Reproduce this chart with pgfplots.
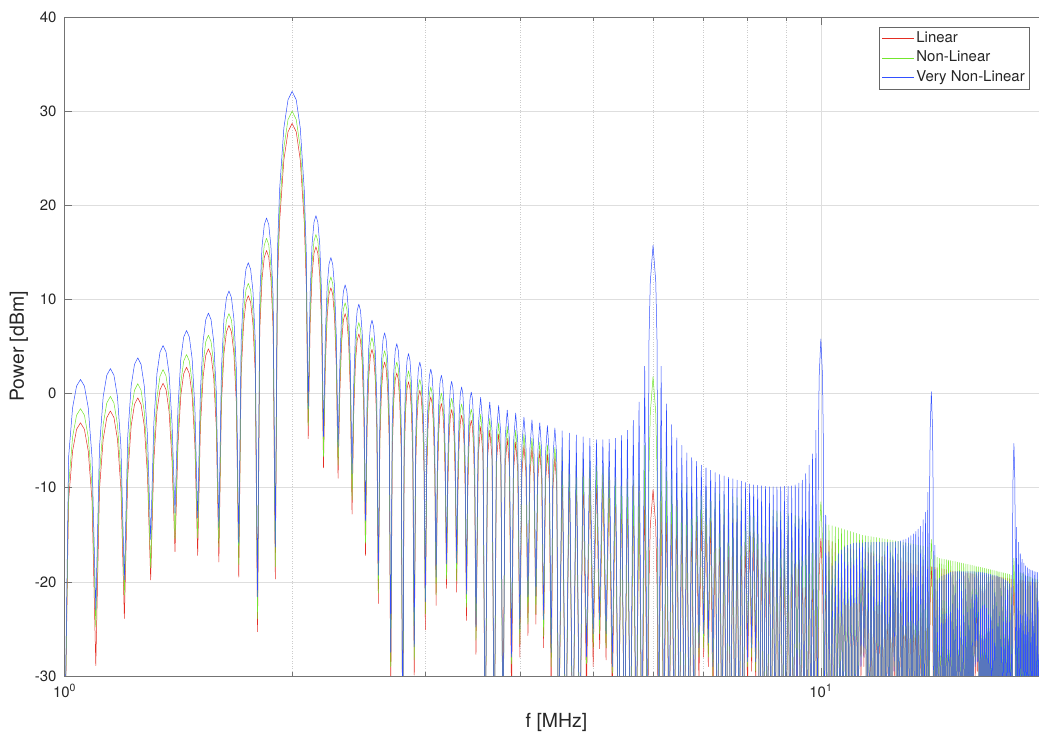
\documentclass[border=0pt]{standalone}
\usepackage{fontspec}
\setmainfont{TeX Gyre Heros}
\usepackage{pgfplots}
\usepackage{pgfplotstable}
\pgfplotsset{compat=1.18}
\definecolor{cR}{RGB}{228,45,35}
\definecolor{cG}{RGB}{115,230,45}
\definecolor{cB}{RGB}{50,80,255}
\definecolor{txt}{RGB}{38,38,38}
\pgfplotstableread{
f r g b
1.0 -40 -40 -40
1.0125 -11.4 -9.9 -6.8
1.025 -6.1 -4.6 -1.5
1.0375 -3.8 -2.3 0.8
1.05 -3.1 -1.6 1.5
1.0625 -3.8 -2.3 0.8
1.075 -6.1 -4.6 -1.5
1.0875 -11.4 -9.9 -6.8
1.1 -28.9 -24.8 -23.0
1.1125 -10.15 -8.6 -5.65
1.125 -4.85 -3.3 -0.35
1.1375 -2.55 -1.0 1.95
1.15 -1.85 -0.3 2.65
1.1625 -2.55 -1.0 1.95
1.175 -4.85 -3.3 -0.35
1.1875 -10.15 -8.6 -5.65
1.2 -23.9 -21.4 -19.8
1.2125 -8.75 -7.25 -4.5
1.225 -3.45 -1.95 0.8
1.2375 -1.15 0.35 3.1
1.25 -0.45 1.05 3.8
1.2625 -1.15 0.35 3.1
1.275 -3.45 -1.95 0.8
1.2875 -8.75 -7.25 -4.5
1.3 -19.8 -18.5 -15.5
1.3125 -7.2 -5.75 -3.2
1.325 -1.9 -0.45 2.1
1.3375 0.4 1.85 4.4
1.35 1.1 2.55 5.1
1.3625 0.4 1.85 4.4
1.375 -1.9 -0.45 2.1
1.3875 -7.2 -5.75 -3.2
1.4 -16.8 -15.4 -12.7
1.4125 -5.5 -4.15 -1.6
1.425 -0.2 1.15 3.7
1.4375 2.1 3.45 6.0
1.45 2.8 4.15 6.7
1.4625 2.1 3.45 6.0
1.475 -0.2 1.15 3.7
1.4875 -5.5 -4.15 -1.6
1.5 -17.2 -15.3 -13.2
1.5125 -3.55 -2.1 0.25
1.525 1.75 3.2 5.55
1.5375 4.05 5.5 7.85
1.55 4.75 6.2 8.55
1.5625 4.05 5.5 7.85
1.575 1.75 3.2 5.55
1.5875 -3.55 -2.1 0.25
1.6 -17.9 -16.3 -14.2
1.6125 -1.05 0.2 2.6
1.625 4.25 5.5 7.9
1.6375 6.55 7.8 10.2
1.65 7.25 8.5 10.9
1.6625 6.55 7.8 10.2
1.675 4.25 5.5 7.9
1.6875 -1.05 0.2 2.6
1.7 -19.5 -18.2 -15.9
1.7125 2.1 3.4 5.6
1.725 7.4 8.7 10.9
1.7375 9.7 11.0 13.2
1.75 10.4 11.7 13.9
1.7625 9.7 11.0 13.2
1.775 7.4 8.7 10.9
1.7875 2.1 3.4 5.6
1.8 -25.3 -23.9 -21.6
1.8125 6.9 8.2 10.35
1.825 12.2 13.5 15.65
1.8375 14.5 15.8 17.95
1.85 15.2 16.5 18.65
1.8625 14.5 15.8 17.95
1.875 12.2 13.5 15.65
1.8875 6.9 8.2 10.35
1.9 -19.7 -18.4 -16.3
1.9125 11.7 13.0 15.1
1.925 18.2 19.5 21.6
1.95 24.8 26.1 28.2
1.975 27.8 29.1 31.2
2.0 28.7 30.0 32.1
2.025 27.8 29.1 31.2
2.05 24.8 26.1 28.2
2.075 18.2 19.5 21.6
2.0875 11.7 13.0 15.1
2.1 -4.8 -3.4 -1.6
2.1125 7.3 8.6 10.6
2.125 12.6 13.9 15.9
2.1375 14.9 16.2 18.2
2.15 15.6 16.9 18.9
2.1625 14.9 16.2 18.2
2.175 12.6 13.9 15.9
2.1875 7.3 8.6 10.6
2.2 -7.9 -6.7 -4.6
2.2125 2.95 4.1 6.15
2.225 8.25 9.4 11.45
2.2375 10.55 11.7 13.75
2.25 11.25 12.4 14.45
2.2625 10.55 11.7 13.75
2.275 8.25 9.4 11.45
2.2875 2.95 4.1 6.15
2.3 -9.0 -7.6 -5.7
2.3125 0.2 1.35 3.25
2.325 5.5 6.65 8.55
2.3375 7.8 8.95 10.85
2.35 8.5 9.65 11.55
2.3625 7.8 8.95 10.85
2.375 5.5 6.65 8.55
2.3875 0.2 1.35 3.25
2.4 -12.8 -11.3 -8.5
2.4125 -1.95 -0.75 1.2
2.425 3.35 4.55 6.5
2.4375 5.65 6.85 8.8
2.45 6.35 7.55 9.5
2.4625 5.65 6.85 8.8
2.475 3.35 4.55 6.5
2.4875 -1.95 -0.75 1.2
2.5 -17.2 -15.9 -13.5
2.5125 -3.6 -2.35 -0.5
2.525 1.7 2.95 4.8
2.5375 4.0 5.25 7.1
2.55 4.7 5.95 7.8
2.5625 4.0 5.25 7.1
2.575 1.7 2.95 4.8
2.5875 -3.6 -2.35 -0.5
2.6 -22.3 -21.2 -19.3
2.6125 -4.95 -3.75 -1.85
2.625 0.35 1.55 3.45
2.6375 2.65 3.85 5.75
2.65 3.35 4.55 6.45
2.6625 2.65 3.85 5.75
2.675 0.35 1.55 3.45
2.6875 -4.95 -3.75 -1.85
2.7 -33 -29 -27.5
2.7125 -6.1 -4.95 -3.0
2.725 -0.8 0.35 2.3
2.7375 1.5 2.65 4.6
2.75 2.2 3.35 5.3
2.7625 1.5 2.65 4.6
2.775 -0.8 0.35 2.3
2.7875 -6.1 -4.95 -3.0
2.8 -40 -40 -38
2.8125 -7.05 -5.9 -4.05
2.825 -1.75 -0.6 1.25
2.8375 0.55 1.7 3.55
2.85 1.25 2.4 4.25
2.8625 0.55 1.7 3.55
2.875 -1.75 -0.6 1.25
2.8875 -7.05 -5.9 -4.05
2.9 -29.9 -28.3 -26.9
2.9125 -7.95 -6.8 -4.95
2.925 -2.65 -1.5 0.35
2.9375 -0.35 0.8 2.65
2.95 0.35 1.5 3.35
2.9625 -0.35 0.8 2.65
2.975 -2.65 -1.5 0.35
2.9875 -7.95 -6.8 -4.95
3.0 -25.1 -23.4 -22.1
3.0125 -8.65 -7.6 -5.7
3.025 -3.35 -2.3 -0.4
3.0375 -1.05 0.0 1.9
3.05 -0.35 0.7 2.6
3.0625 -1.05 0.0 1.9
3.075 -3.35 -2.3 -0.4
3.0875 -8.65 -7.6 -5.7
3.1 -22.5 -21.4 -19.5
3.1125 -9.35 -8.25 -6.35
3.125 -4.05 -2.95 -1.05
3.1375 -1.75 -0.65 1.25
3.15 -1.05 0.05 1.95
3.1625 -1.75 -0.65 1.25
3.175 -4.05 -2.95 -1.05
3.1875 -9.35 -8.25 -6.35
3.2 -20.7 -19.7 -18.1
3.2125 -10.0 -8.8 -7.0
3.225 -4.7 -3.5 -1.7
3.2375 -2.4 -1.2 0.6
3.25 -1.7 -0.5 1.3
3.2625 -2.4 -1.2 0.6
3.275 -4.7 -3.5 -1.7
3.2875 -10.0 -8.8 -7.0
3.3 -21.1 -19.9 -18.0
3.3125 -10.6 -9.4 -7.6
3.325 -5.3 -4.1 -2.3
3.3375 -3.0 -1.8 0.0
3.35 -2.3 -1.1 0.7
3.3625 -3.0 -1.8 0.0
3.375 -5.3 -4.1 -2.3
3.3875 -10.6 -9.4 -7.6
3.4 -24.1 -22.7 -21.3
3.4125 -11.15 -9.95 -8.15
3.425 -5.85 -4.65 -2.85
3.4375 -3.55 -2.35 -0.55
3.45 -2.85 -1.65 0.15
3.4625 -3.55 -2.35 -0.55
3.475 -5.85 -4.65 -2.85
3.4875 -11.15 -9.95 -8.15
3.5 -27.7 -26.2 -24.8
3.525 -6.5 -5.2 -3.4
3.55 -3.5 -2.2 -0.4
3.575 -6.5 -5.2 -3.4
3.6 -40 -40 -40
3.625 -6.9 -5.65 -3.9
3.65 -3.9 -2.65 -0.9
3.675 -6.9 -5.65 -3.9
3.7 -40 -40 -40
3.725 -7.3 -6.1 -4.26
3.75 -4.3 -3.1 -1.26
3.775 -7.3 -6.1 -4.26
3.8 -36 -40 -40
3.825 -7.75 -6.5 -4.75
3.85 -4.75 -3.5 -1.75
3.875 -7.75 -6.5 -4.75
3.9 -33 -28.7 -28
3.925 -8.15 -6.9 -5.07
3.95 -5.15 -3.9 -2.07
3.975 -8.15 -6.9 -5.07
4.0 -28 -26.6 -25
4.025 -8.45 -7.3 -5.5
4.05 -5.45 -4.3 -2.5
4.075 -8.45 -7.3 -5.5
4.1 -25.7 -24.5 -21.6
4.125 -8.7 -7.75 -5.8
4.15 -5.7 -4.75 -2.8
4.175 -8.7 -7.75 -5.8
4.2 -24.5 -23.4 -21.5
4.225 -9.05 -8.15 -6.1
4.25 -6.05 -5.15 -3.1
4.275 -9.05 -8.15 -6.1
4.3 -27 -25.8 -24
4.325 -9.4 -8.45 -6.4
4.35 -6.4 -5.45 -3.4
4.375 -9.4 -8.45 -6.4
4.4 -32 -29 -27.5
4.425 -9.75 -8.7 -6.65
4.45 -6.75 -5.7 -3.65
4.475 -9.75 -8.7 -6.65
4.5 -40 -40 -40
4.55 -7.1 -6.0 -3.95
4.6 -40 -40 -40
4.65 -7.35 -6.3 -4.2
4.7 -40 -40 -40
4.75 -7.6 -6.6 -4.4
4.8 -40 -40 -40
4.85 -7.95 -6.85 -4.6
4.9 -32 -28.7 -28
4.95 -8.3 -7.1 -4.75
5.0 -29 -27 -25.5
5.05 -8.5 -7.4 -4.9
5.1 -27.1 -25.5 -24
5.15 -8.7 -7.75 -4.9
5.2 -28.3 -27 -25.5
5.25 -8.85 -8.0 -4.85
5.3 -33 -29.7 -29
5.35 -9.05 -8.3 -4.75
5.4 -40 -40 -40
5.45 -9.2 -8.6 -4.45
5.5 -40 -40 -40
5.55 -9.4 -8.9 -3.9
5.6 -40 -40 -40
5.65 -9.6 -9.2 -2.85
5.7 -40 -40 -40
5.75 -9.8 -8.5 -0.9
5.8 -40 -40 -40
5.85 -10.0 -5.5 2.9
5.9 -40 -40 -40
5.925 -20.7 -8.7 5.25
5.95 -14.1 -2.1 11.85
6.0 -10.2 1.8 15.75
6.05 -14.1 -2.1 11.85
6.075 -20.7 -8.7 5.25
6.1 -40 -40 -40
6.15 -10.5 -5.8 2.9
6.2 -40 -40 -40
6.25 -10.7 -8.3 -1.1
6.3 -40 -40 -40
6.35 -10.9 -9.0 -3.3
6.4 -40 -40 -40
6.45 -11.1 -9.3 -4.7
6.5 -40 -40 -40
6.55 -11.3 -9.5 -5.5
6.6 -40 -40 -40
6.65 -11.5 -9.7 -6.3
6.7 -40 -40 -40
6.75 -11.75 -9.85 -6.8
6.8 -40 -40 -40
6.85 -11.95 -10.0 -7.2
6.9 -31 -28 -27
6.95 -12.15 -10.15 -7.6
7.0 -28 -27 -25.5
7.05 -12.3 -10.3 -7.9
7.1 -29 -28 -26.5
7.15 -12.45 -10.45 -8.15
7.2 -34 -30 -29
7.25 -12.6 -10.55 -8.4
7.3 -40 -40 -40
7.35 -12.8 -10.65 -8.6
7.4 -40 -40 -40
7.45 -12.95 -10.75 -8.75
7.5 -40 -40 -40
7.55 -13.1 -10.85 -8.9
7.6 -40 -40 -40
7.65 -13.2 -10.95 -9.05
7.7 -40 -40 -40
7.75 -13.3 -11.05 -9.2
7.8 -40 -40 -40
7.85 -13.4 -11.2 -9.3
7.9 -40 -40 -40
7.95 -13.5 -11.3 -9.45
8.0 -32 -29 -28.5
8.05 -13.6 -11.45 -9.6
8.1 -29.5 -28 -27
8.15 -13.7 -11.6 -9.7
8.2 -31 -29.5 -28.5
8.25 -13.8 -11.75 -9.75
8.3 -40 -40 -40
8.35 -13.9 -11.9 -9.8
8.4 -40 -40 -40
8.45 -14.0 -12.05 -9.85
8.5 -40 -40 -40
8.55 -14.05 -12.2 -9.9
8.6 -40 -40 -40
8.65 -14.1 -12.35 -9.9
8.7 -40 -40 -40
8.75 -14.2 -12.45 -9.9
8.8 -40 -40 -40
8.85 -14.3 -12.55 -9.9
8.9 -40 -40 -40
8.95 -14.4 -12.65 -9.85
9.0 -40 -40 -40
9.05 -14.5 -12.75 -9.85
9.1 -40 -40 -40
9.15 -14.6 -12.85 -9.8
9.2 -40 -40 -40
9.25 -14.7 -12.95 -9.7
9.3 -33 -30 -40
9.35 -14.8 -13.05 -9.5
9.4 -40 -40 -40
9.45 -14.9 -13.15 -9.2
9.5 -40 -40 -40
9.55 -15.0 -13.25 -8.5
9.6 -40 -40 -40
9.65 -15.1 -13.35 -7.6
9.7 -40 -40 -40
9.75 -15.2 -13.45 -6.4
9.8 -40 -40 -40
9.85 -15.3 -13.55 -3.9
9.9 -40 -40 -40
9.925 -25.9 -22 -4.7
9.95 -19.3 -15.4 1.9
10.0 -15.4 -11.5 5.8
10.05 -19.3 -15.4 1.9
10.075 -25.9 -22 -4.7
10.1 -40 -40 -40
10.15 -15.45 -13.85 -12.9
10.2 -40 -40 -40
10.25 -15.6 -13.95 -16.8
10.3 -40 -40 -40
10.35 -15.75 -14.05 -18.3
10.4 -40 -40 -40
10.45 -15.9 -14.15 -17.8
10.5 -40 -40 -40
10.55 -16.05 -14.25 -17.0
10.6 -40 -40 -40
10.65 -16.2 -14.35 -16.6
10.7 -40 -40 -40
10.75 -16.3 -14.45 -16.3
10.8 -40 -40 -40
10.85 -16.4 -14.55 -16.1
10.9 -40 -40 -40
10.95 -16.5 -14.65 -16.0
11.0 -40 -40 -40
11.05 -16.55 -14.75 -15.9
11.1 -40 -40 -40
11.15 -16.6 -14.85 -15.85
11.2 -40 -40 -40
11.25 -16.65 -14.95 -15.85
11.3 -30 -28 -29
11.35 -16.7 -15.05 -15.85
11.4 -29 -27.5 -28
11.45 -16.8 -15.1 -15.8
11.5 -40 -40 -40
11.55 -16.85 -15.15 -15.8
11.6 -40 -40 -40
11.65 -16.9 -15.2 -15.8
11.7 -40 -40 -40
11.75 -17.0 -15.25 -15.8
11.8 -40 -40 -40
11.85 -17.1 -15.3 -15.8
11.9 -40 -40 -40
11.95 -17.2 -15.35 -15.8
12.0 -40 -40 -40
12.05 -17.3 -15.4 -15.8
12.1 -40 -40 -40
12.15 -17.35 -15.45 -15.8
12.2 -40 -40 -40
12.25 -17.4 -15.5 -15.8
12.3 -40 -40 -40
12.35 -17.5 -15.55 -15.8
12.4 -40 -40 -40
12.45 -17.55 -15.6 -15.8
12.5 -31 -29 -29.5
12.55 -17.6 -15.65 -15.75
12.6 -40 -40 -40
12.65 -17.7 -15.7 -15.7
12.7 -40 -40 -40
12.75 -17.75 -15.75 -15.65
12.8 -40 -40 -40
12.85 -17.85 -15.8 -15.55
12.9 -40 -40 -40
12.95 -17.9 -15.85 -15.45
13.0 -40 -40 -40
13.05 -18.0 -15.9 -15.3
13.1 -40 -40 -40
13.15 -18.05 -15.95 -15.1
13.2 -40 -40 -40
13.25 -18.1 -16.0 -14.9
13.3 -40 -40 -40
13.35 -18.15 -16.05 -14.65
13.4 -40 -40 -40
13.45 -18.2 -16.1 -14.4
13.5 -40 -40 -40
13.55 -18.25 -16.15 -14.1
13.6 -40 -40 -40
13.65 -18.3 -16.2 -13.4
13.7 -40 -40 -40
13.75 -18.35 -16.25 -12.6
13.8 -40 -40 -40
13.85 -18.4 -16.3 -10.5
13.9 -40 -40 -40
13.925 -28.9 -26 -10.3
13.95 -22.3 -19.4 -3.7
14.0 -18.4 -15.5 0.2
14.05 -22.3 -19.4 -3.7
14.075 -28.9 -26 -10.3
14.1 -40 -40 -40
14.15 -18.45 -17.2 -16.1
14.2 -40 -40 -40
14.25 -18.5 -17.4 -19.8
14.3 -40 -40 -40
14.35 -18.55 -17.5 -19.6
14.4 -40 -40 -40
14.45 -18.6 -17.55 -19.4
14.5 -40 -40 -40
14.55 -18.65 -17.6 -19.3
14.6 -40 -40 -40
14.65 -18.7 -17.65 -19.2
14.7 -40 -40 -40
14.75 -18.75 -17.7 -19.1
14.8 -40 -40 -40
14.85 -18.8 -17.75 -19.0
14.9 -40 -40 -40
14.95 -18.85 -17.8 -18.95
15.0 -40 -40 -40
15.05 -18.9 -17.85 -18.9
15.1 -40 -40 -40
15.15 -18.9 -17.9 -18.9
15.2 -40 -40 -40
15.25 -18.95 -17.95 -18.9
15.3 -40 -40 -40
15.35 -19.0 -18.0 -18.9
15.4 -40 -40 -40
15.45 -19.0 -18.05 -18.9
15.5 -40 -40 -40
15.55 -19.05 -18.1 -18.9
15.6 -40 -40 -40
15.65 -19.1 -18.15 -18.9
15.7 -40 -40 -40
15.75 -19.1 -18.2 -18.9
15.8 -40 -40 -40
15.85 -19.15 -18.25 -18.9
15.9 -40 -40 -40
15.95 -19.15 -18.3 -18.9
16.0 -30 -28.5 -29
16.05 -19.2 -18.35 -18.95
16.1 -29.5 -28 -28.5
16.15 -19.2 -18.4 -18.95
16.2 -40 -40 -40
16.25 -19.25 -18.45 -19.0
16.3 -40 -40 -40
16.35 -19.25 -18.5 -19.0
16.4 -40 -40 -40
16.45 -19.3 -18.55 -19.05
16.5 -40 -40 -40
16.55 -19.3 -18.6 -19.1
16.6 -40 -40 -40
16.65 -19.35 -18.65 -19.15
16.7 -40 -40 -40
16.75 -19.35 -18.7 -19.2
16.8 -40 -40 -40
16.85 -19.4 -18.75 -19.25
16.9 -40 -40 -40
16.95 -19.4 -18.8 -19.3
17.0 -40 -40 -40
17.05 -19.45 -18.85 -19.35
17.1 -40 -40 -40
17.15 -19.45 -18.9 -19.4
17.2 -40 -40 -40
17.25 -19.5 -18.95 -19.5
17.3 -40 -40 -40
17.35 -19.5 -19.0 -19.6
17.4 -40 -40 -40
17.45 -19.55 -19.05 -19.7
17.5 -40 -40 -40
17.55 -19.6 -19.1 -19.8
17.6 -40 -40 -40
17.65 -19.6 -19.15 -19.95
17.7 -40 -40 -40
17.75 -19.65 -19.2 -20.2
17.8 -40 -40 -40
17.85 -19.7 -19.3 -20.6
17.9 -40 -40 -40
17.925 -30.2 -28 -15.8
17.95 -23.6 -21.4 -9.2
18.0 -19.7 -17.5 -5.3
18.05 -23.6 -21.4 -9.2
18.075 -30.2 -28 -15.8
18.1 -40 -40 -40
18.15 -19.75 -18.8 -14.2
18.2 -40 -40 -40
18.25 -19.8 -18.9 -15.8
18.3 -40 -40 -40
18.35 -19.8 -19.0 -17.0
18.4 -40 -40 -40
18.45 -19.85 -19.1 -17.6
18.5 -40 -40 -40
18.55 -19.9 -19.2 -18.0
18.6 -40 -40 -40
18.65 -19.9 -19.3 -18.3
18.7 -40 -40 -40
18.75 -19.95 -19.4 -18.5
18.8 -40 -40 -40
18.85 -20.0 -19.45 -18.65
18.9 -40 -40 -40
18.95 -20.0 -19.5 -18.75
19.0 -40 -40 -40
19.05 -20.05 -19.6 -18.8
19.1 -40 -40 -40
19.15 -20.05 -19.65 -18.9
19.2 -40 -40 -40
19.25 -20.1 -19.7 -18.95
19.3 -40 -40 -40
19.35 -20.1 -19.75 -19.0
19.4 -40 -40 -40
19.45 -20.15 -19.8 -19.1
19.5 -40 -40 -40
19.55 -20.15 -19.85 -19.1
19.6 -40 -40 -40
19.65 -20.2 -19.9 -19.15
19.7 -40 -40 -40
19.75 -20.2 -19.95 -19.2
19.8 -40 -40 -40
19.85 -20.25 -20.0 -19.2
19.9 -40 -40 -40
19.95 -20.25 -20.05 -19.25
20.0 -40 -40 -40
}\spectrum
\begin{document}
\begin{tikzpicture}
\begin{axis}[
  at={(0,0)}, anchor=south west, scale only axis,
  width=984bp, height=659bp,
  xmode=log, log basis x=10,
  xmin=1, xmax=20, ymin=-30, ymax=40,
  xtick={1,10}, xticklabels={10\textsuperscript{0},10\textsuperscript{1}},
  minor xtick={2,3,4,5,6,7,8,9,20},
  ytick={-30,-20,-10,0,10,20,30,40},
  yticklabels={-30,-20,-10,0,10,20,30,40},
  grid=both,
  major grid style={line width=0.5bp, color=black!13},
  minor grid style={line width=0.5bp, color=black!20, dotted},
  axis line style={line width=0.6bp, color=black!55},
  every tick/.style={line width=0.6bp, color=black!55},
  tick align=inside,
  major tick length=8bp, minor tick length=4bp,
  tick label style={font=\fontsize{15}{18}\selectfont, text=txt},
  yticklabel style={xshift=-4.5bp},
  xticklabel style={yshift=-5bp},
  xlabel={f [MHz]}, ylabel={Power [dBm]},
  label style={font=\fontsize{19.5}{23}\selectfont, text=txt},
  xlabel style={at={(axis description cs:0.5,0)}, anchor=center, yshift=-46bp},
  ylabel style={at={(axis description cs:-0.0463,0.5)}, anchor=center},
  legend cell align=left,
  legend image code/.code={\draw[#1, line width=0.8bp] (0bp,0bp) -- (32bp,0bp);},
  legend style={at={(0.9802,0.9848)}, anchor=north east,
    font=\fontsize{15}{18}\selectfont, text=txt,
    draw=black!60, line width=0.5bp, fill=white,
    inner xsep=2bp, inner ysep=1.5bp, row sep=0bp,
    nodes={text height=11bp, text depth=3.5bp, inner ysep=2.5bp, inner xsep=2bp}},
  every axis plot/.append style={line join=round, line width=0.5bp},
]
\addplot[cR, mark=none] table[x=f, y=r] {\spectrum};
\addlegendentry{Linear}
\addplot[cG, mark=none] table[x=f, y=g] {\spectrum};
\addlegendentry{Non-Linear}
\addplot[cB, mark=none] table[x=f, y=b] {\spectrum};
\addlegendentry{Very Non-Linear}
\end{axis}
\pgfresetboundingbox
\useasboundingbox (-64.5bp,-57bp) rectangle (974.5bp,676bp);
\end{tikzpicture}
\end{document}
